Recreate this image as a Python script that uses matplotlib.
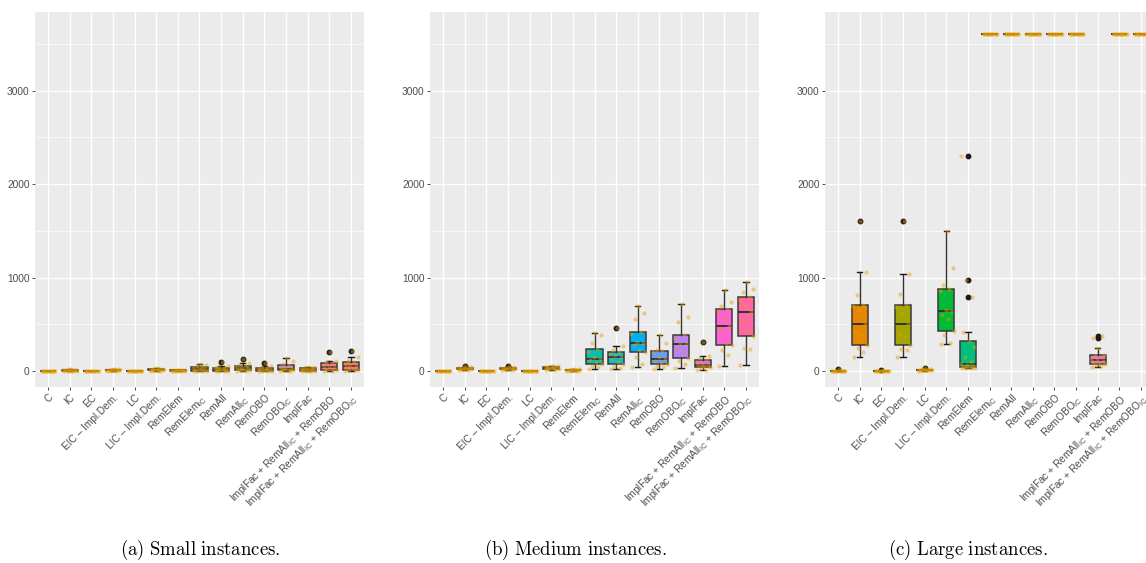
import numpy as np
import matplotlib
matplotlib.use("Agg")
import matplotlib.pyplot as plt

plt.rcParams['font.family'] = ['Liberation Sans', 'DejaVu Sans']
plt.rcParams['mathtext.fontset'] = 'custom'
plt.rcParams['mathtext.rm'] = 'Liberation Sans'
plt.rcParams['mathtext.it'] = 'Liberation Sans:italic'
plt.rcParams['mathtext.bf'] = 'Liberation Sans:bold'

# solver variants, same order in every panel
categories = [
    'C', 'IC', 'EC', 'EIC – Impl.Dem.', 'LC', 'LIC – Impl.Dem.', 'RemElem',
    r'RemElem$_{\mathrm{IC}}$', 'RemAll', r'RemAll$_{\mathrm{IC}}$', 'RemOBO',
    r'RemOBO$_{\mathrm{IC}}$', 'ImplFac',
    r'ImplFac + RemAll$_{\mathrm{IC}}$ + RemOBO',
    r'ImplFac + RemAll$_{\mathrm{IC}}$ + RemOBO$_{\mathrm{IC}}$',
]

# ggplot hue palette for 15 groups
colors = ['#F8766D', '#E58700', '#C99800', '#A3A500', '#6BB100', '#00BA38',
          '#00BF7D', '#00C0AF', '#00BCD8', '#00B0F6', '#619CFF', '#B983FF',
          '#E76BF3', '#FD61D1', '#FF67A4']

# runtimes (s) per instance
small_times = [
    [0, 0, 0, 1, 1, 1, 1, 1, 2, 2, 2, 3, 3],
    [1, 2, 3, 4, 5, 6, 7, 8, 9, 10, 12, 14, 18],
    [0, 0, 0, 0, 1, 1, 1, 1, 1, 1, 2, 2, 2],
    [2, 3, 5, 6, 7, 8, 10, 11, 12, 14, 15, 18, 22],
    [0, 0, 0, 1, 1, 1, 1, 1, 1, 2, 2, 2, 3],
    [2, 4, 6, 8, 9, 10, 12, 14, 15, 17, 20, 24, 28],
    [1, 1, 2, 3, 4, 5, 6, 7, 8, 9, 10, 12, 14],
    [1, 3, 4, 5, 10, 14, 20, 25, 33, 42, 50, 60, 72],
    [1, 2, 4, 5, 8, 10, 15, 20, 28, 35, 45, 55, 93],
    [2, 4, 6, 8, 14, 20, 28, 35, 44, 53, 65, 82, 128],
    [1, 2, 3, 4, 6, 9, 12, 16, 24, 32, 40, 55, 86],
    [2, 4, 6, 8, 12, 18, 25, 32, 45, 61, 80, 110, 139],
    [0, 1, 2, 3, 5, 7, 10, 14, 22, 30, 35, 40, 43],
    [2, 5, 8, 10, 20, 32, 45, 55, 68, 82, 95, 107, 203],
    [3, 6, 10, 15, 28, 42, 55, 65, 80, 93, 110, 146, 217],
]

medium_times = [
    [0, 0, 0, 0, 0, 0, 1, 1, 1, 1, 1, 1, 2],
    [8, 12, 15, 18, 20, 22, 25, 27, 29, 31, 34, 38, 55],
    [0, 0, 0, 0, 0, 1, 1, 1, 1, 1, 1, 2, 2],
    [8, 12, 16, 19, 21, 23, 26, 28, 30, 32, 35, 39, 56],
    [0, 0, 0, 0, 1, 1, 1, 1, 1, 2, 2, 2, 3],
    [12, 16, 20, 24, 27, 29, 32, 35, 38, 42, 46, 50, 55],
    [2, 4, 5, 7, 8, 9, 10, 11, 12, 14, 16, 18, 22],
    [21, 40, 55, 71, 95, 115, 132, 150, 200, 235, 300, 380, 406],
    [25, 35, 50, 75, 100, 130, 153, 170, 185, 200, 230, 271, 460],
    [39, 80, 150, 203, 230, 280, 296, 310, 400, 420, 560, 620, 695],
    [21, 40, 55, 71, 90, 110, 125, 150, 200, 214, 225, 300, 385],
    [29, 80, 110, 139, 200, 250, 285, 300, 350, 388, 520, 580, 713],
    [7, 15, 30, 39, 50, 60, 68, 80, 95, 118, 140, 164, 314],
    [53, 170, 220, 282, 300, 450, 485, 560, 640, 667, 700, 740, 863],
    [64, 240, 250, 378, 430, 540, 627, 700, 760, 788, 840, 880, 952],
]

large_times = [
    [0, 0, 0, 1, 1, 1, 2, 2, 2, 3, 3, 4, 18],
    [153, 200, 250, 275, 380, 420, 499, 650, 700, 706, 810, 1059, 1608],
    [0, 0, 0, 0, 1, 1, 1, 1, 2, 2, 2, 3, 8],
    [153, 220, 240, 277, 360, 400, 499, 620, 680, 706, 820, 1034, 1608],
    [5, 6, 8, 9, 10, 11, 12, 13, 14, 16, 18, 20, 30],
    [289, 300, 390, 424, 560, 600, 638, 650, 860, 874, 920, 1100, 1497],
    [29, 32, 34, 36, 39, 45, 52, 60, 71, 100, 150, 260, 324, 421, 795, 970, 2303],
    [3600] * 13,
    [3600] * 13,
    [3600] * 13,
    [3600] * 13,
    [3600] * 13,
    [43, 50, 60, 70, 80, 95, 110, 118, 130, 150, 160, 176, 243, 350, 370],
    [3600] * 13,
    [3600] * 13,
]

captions = ['(a) Small instances.', '(b) Medium instances.', '(c) Large instances.']


def jitter(n):
    # spread points across the box width without randomness
    return ((np.arange(n) * 0.6180339887 + 0.13) % 1.0 - 0.5) * 0.7


def draw_panel(ax, data):
    pos = np.arange(1, len(data) + 1)
    ax.set_facecolor('#EBEBEB')
    bp = ax.boxplot(
        data, positions=pos, widths=0.75, patch_artist=True, capwidths=0.25,
        whis=1.5, manage_ticks=False, zorder=3,
        boxprops=dict(edgecolor='#3a3a3a', linewidth=1.1),
        medianprops=dict(color='#333333', linewidth=1.4),
        whiskerprops=dict(color='#333333', linewidth=1.0),
        capprops=dict(color='#1a1a1a', linewidth=1.0),
        flierprops=dict(marker='o', markerfacecolor='#1a1a1a',
                        markeredgecolor='#1a1a1a', markersize=3.2),
    )
    for patch, c in zip(bp['boxes'], colors):
        patch.set_facecolor(c)
    for i, vals in enumerate(data):
        ax.plot(pos[i] + jitter(len(vals)), vals, 'o', color='#E69F00',
                alpha=0.45, ms=3.0, mew=0, zorder=4)

    ax.set_xlim(0.4, len(data) + 0.6)
    ax.set_ylim(-171, 3840)
    ax.set_yticks([0, 1000, 2000, 3000])
    ax.set_yticks([500, 1500, 2500, 3500], minor=True)
    ax.set_xticks(pos)
    ax.set_xticklabels(categories, rotation=45, ha='right', va='top',
                       rotation_mode='anchor')
    ax.set_axisbelow(True)
    ax.grid(which='major', color='white', linewidth=1.0)
    ax.grid(which='minor', axis='y', color='white', linewidth=0.5)
    for s in ax.spines.values():
        s.set_visible(False)
    ax.tick_params(which='major', labelsize=7.3, labelcolor='#4D4D4D',
                   color='#333333', length=2.5, width=0.6, pad=1.5)
    ax.tick_params(which='minor', length=0)


W, H = 1146, 563
fig = plt.figure(figsize=(W / 100, H / 100), dpi=100)

lefts = [35, 430, 825]
for left, data in zip(lefts, [small_times, medium_times, large_times]):
    ax = fig.add_axes([left / W, 1 - 387 / H, 329 / W, 375 / H])
    draw_panel(ax, data)

for x, cap in zip([200, 575, 968], captions):
    fig.text(x / W, 1 - 550 / H, '$\\mathrm{' + cap.replace(' ', '\\ ') + '}$',
             ha='center', va='center', fontsize=13.5, math_fontfamily='cm')

fig.savefig('out.png', dpi=100)
